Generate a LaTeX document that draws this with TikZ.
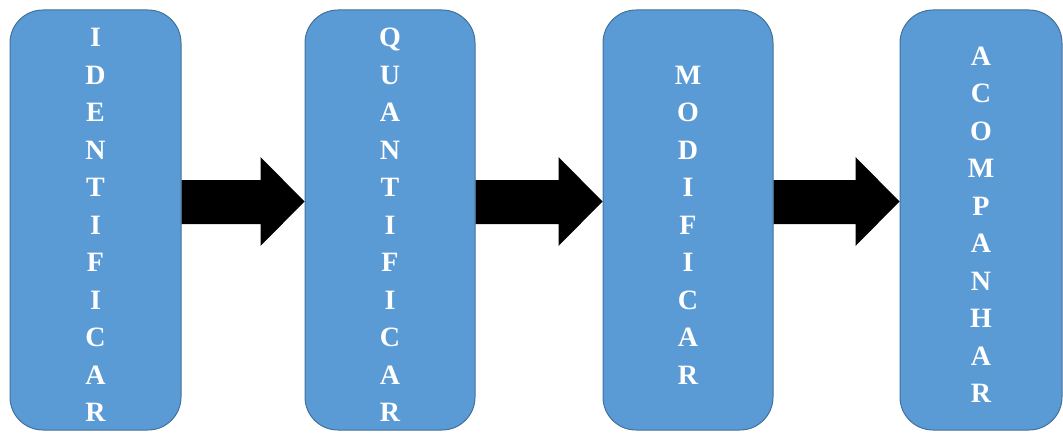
\documentclass[tikz,border=0pt]{standalone}
\usepackage{fontspec}
\setmainfont{Liberation Serif}
\usepackage{tikz}
\usetikzlibrary{positioning, calc}
\usepackage{xcolor}
\definecolor{stagefill}{HTML}{5B9BD5}
\definecolor{stageline}{HTML}{41719C}

\begin{document}
\begin{tikzpicture}[
        x=1pt, y=1pt,
        stage/.style={draw=stageline, fill=stagefill, line width=1pt, rectangle, rounded corners=33pt,
          minimum height=420pt, minimum width=171pt, inner sep=0pt, text width=40pt, align=center,
          text height=28.5pt, text=white, font=\bfseries\fontsize{28}{37.5}\selectfont},
        flow/.style={fill=black}
      ]
      \useasboundingbox (0,0) rectangle (1063,432);

      % Stages
      \node [stage] (ID) at (95.5,212) {I\\D\\E\\N\\T\\I\\F\\I\\C\\A\\R};
      \node [stage, minimum width=170pt, right=123pt of ID] (QT) {Q\\U\\A\\N\\T\\I\\F\\I\\C\\A\\R};
      \node [stage, minimum width=170pt, right=127pt of QT] (MD) {M\\O\\D\\I\\F\\I\\C\\A\\R};
      \node [stage, minimum width=162pt, right=126pt of MD] (AC) {A\\C\\O\\M\\P\\A\\N\\H\\A\\R};

      % Block arrows
      \foreach \a/\b in {ID/QT, QT/MD, MD/AC}
        \fill[flow] ($(\a.east)+(0,40)$) -- ($(\b.west)+(-44,40)$) -- ($(\b.west)+(-44,63)$)
          -- ($(\b.west)+(0,18.5)$) -- ($(\b.west)+(-44,-26)$) -- ($(\b.west)+(-44,-4)$)
          -- ($(\a.east)+(0,-4)$) -- cycle;

    \end{tikzpicture}
\end{document}
